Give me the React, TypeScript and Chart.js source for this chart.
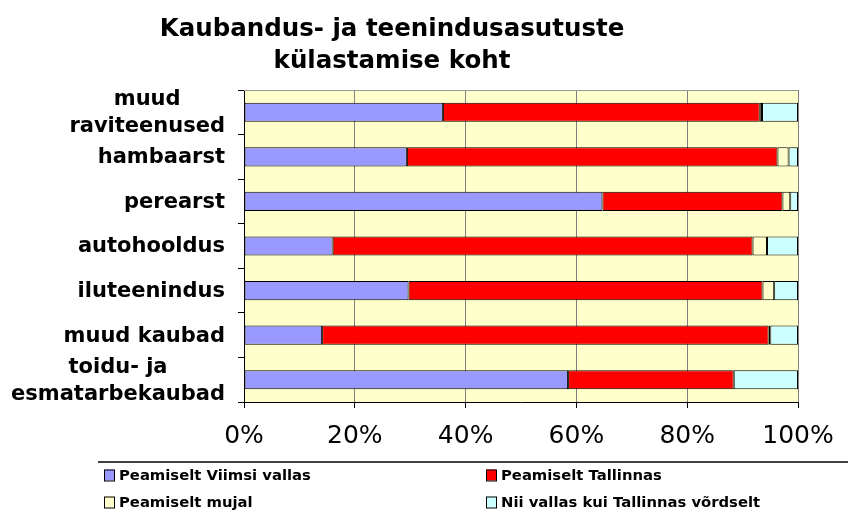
import React, { useEffect, useRef } from "react";
import { Chart, registerables } from "chart.js";

Chart.register(...registerables);

const titleLines = ["Kaubandus- ja teenindusasutuste", "külastamise koht"];
const categories: string[][] = [
  ["muud", "raviteenused"],
  ["hambaarst"],
  ["perearst"],
  ["autohooldus"],
  ["iluteenindus"],
  ["muud kaubad"],
  ["toidu- ja", "esmatarbekaubad"],
];
const seriesNames = [
  "Peamiselt Viimsi vallas",
  "Peamiselt Tallinnas",
  "Peamiselt mujal",
  "Nii vallas kui Tallinnas võrdselt",
];
const viimsi = [35.9, 29.4, 64.7, 16.0, 29.7, 14.1, 58.5];
const tallinnas = [57.2, 66.9, 32.5, 75.8, 63.9, 80.6, 29.9];
const mujal = [0.4, 2.0, 1.4, 2.6, 2.1, 0.3, 0];
const vordselt = [6.5, 1.7, 1.4, 5.6, 4.3, 5.0, 11.6];
const xTicks = [0, 20, 40, 60, 80, 100];

const colors = ["#9999FF", "#FF0000", "#FFFFCC", "#CCFFFF"];
const FONT = '"DejaVu Sans", Verdana, sans-serif';

export default function App() {
  const ref = useRef<HTMLCanvasElement | null>(null);
  useEffect(() => {
    document.body.style.margin = "0";
    const canvas = ref.current!;
    const decor = {
      id: "decor",
      beforeDraw(chart: any) {
        const { ctx, chartArea: a } = chart;
        ctx.save();
        ctx.fillStyle = "#FFFFCC";
        ctx.fillRect(a.left, a.top, a.right - a.left, a.bottom - a.top);
        ctx.restore();
      },
      afterDraw(chart: any) {
        const { ctx, chartArea: a } = chart;
        ctx.save();
        // top border
        ctx.strokeStyle = "#999999";
        ctx.lineWidth = 1;
        ctx.beginPath();
        ctx.moveTo(a.left, a.top + 0.5);
        ctx.lineTo(a.right, a.top + 0.5);
        ctx.stroke();
        // title
        ctx.fillStyle = "#000";
        ctx.textAlign = "center";
        ctx.textBaseline = "middle";
        ctx.font = `bold 24.5px ${FONT}`;
        ctx.fillText(titleLines[0], 392, 30);
        ctx.fillText(titleLines[1], 392, 62);
        // category labels
        const ys = chart.scales.y;
        ctx.font = `bold 21px ${FONT}`;
        const rightEdge = 225;
        const lh = 27;
        categories.forEach((lines, i) => {
          const cy = ys.getPixelForValue(i) + 1;
          const widths = lines.map((l) => ctx.measureText(l).width);
          const maxW = Math.max(...widths);
          const cx = rightEdge - maxW / 2;
          lines.forEach((l, j) => {
            const y = cy + (j - (lines.length - 1) / 2) * lh;
            ctx.fillText(l, cx, y);
          });
        });
        // legend
        ctx.strokeStyle = "#000";
        ctx.lineWidth = 1.5;
        ctx.beginPath();
        ctx.moveTo(98, 462);
        ctx.lineTo(848, 462);
        ctx.stroke();
        ctx.font = `bold 14.8px ${FONT}`;
        ctx.textAlign = "left";
        const pos = [
          [104, 475],
          [486, 475],
          [104, 502],
          [486, 502],
        ];
        seriesNames.forEach((name, i) => {
          const [x, y] = pos[i];
          ctx.fillStyle = colors[i];
          ctx.fillRect(x, y - 5.5, 10, 11);
          ctx.strokeStyle = "#000";
          ctx.lineWidth = 1;
          ctx.strokeRect(x + 0.5, y - 5.5 + 0.5, 10, 11);
          ctx.fillStyle = "#000";
          ctx.fillText(name, x + 15, y + 1);
        });
        ctx.restore();
      },
    };
    const data = [viimsi, tallinnas, mujal, vordselt];
    const chart = new Chart(canvas, {
      type: "bar",
      data: {
        labels: categories.map((c) => c.join(" ")),
        datasets: data.map((d, i) => ({
          label: seriesNames[i],
          data: d,
          backgroundColor: colors[i],
          borderColor: "#000",
          borderWidth: 1,
          borderSkipped: false,
          barPercentage: 0.43,
          categoryPercentage: 1,
        })),
      },
      options: {
        indexAxis: "y",
        animation: false,
        responsive: false,
        devicePixelRatio: 1,
        layout: { padding: { top: 90, right: 50, left: 0, bottom: 0 } },
        plugins: {
          legend: { display: false },
          title: { display: false },
          tooltip: { enabled: false },
        },
        scales: {
          x: {
            stacked: true,
            min: 0,
            max: 100,
            afterBuildTicks: (s: any) => {
              s.ticks = xTicks.map((v) => ({ value: v }));
            },
            afterFit: (s: any) => {
              s.height = 113;
            },
            ticks: {
              color: "#000",
              padding: 13,
              font: { family: '"DejaVu Sans", sans-serif', size: 25 },
              callback: (v: any) => v + "%",
              maxRotation: 0,
            },
            grid: {
              color: (c: any) => (c.tick && c.tick.value === 0 ? "rgba(0,0,0,0)" : "#808080"),
              lineWidth: 1,
              tickColor: "#000",
              tickLength: 6,
            },
            border: { color: "#000", width: 1 },
          },
          y: {
            stacked: true,
            afterFit: (s: any) => {
              s.width = 244;
            },
            ticks: { display: false },
            grid: {
              drawOnChartArea: false,
              drawTicks: true,
              tickLength: 6,
              tickColor: "#000",
              offset: true,
            },
            border: { color: "#000", width: 1 },
          },
        },
      },
      plugins: [decor],
    } as any);
    return () => chart.destroy();
  }, []);
  return (
    <div style={{ width: 848, height: 515 }}>
      <canvas ref={ref} width={848} height={515} />
    </div>
  );
}
